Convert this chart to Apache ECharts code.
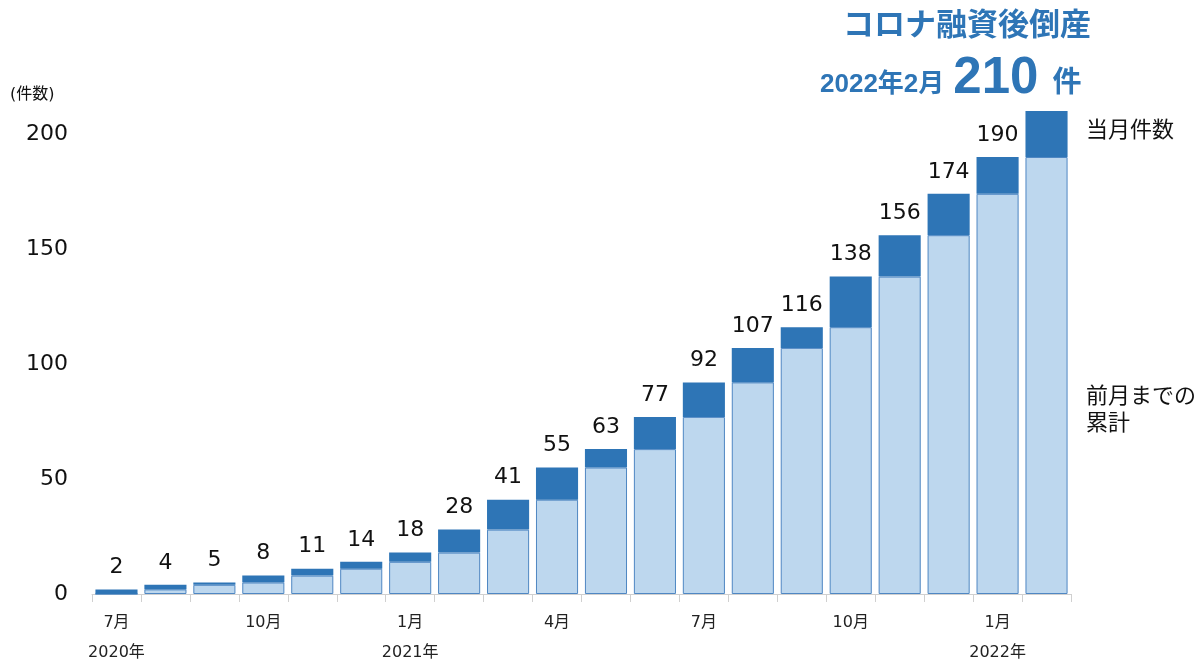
<!DOCTYPE html>
<html><head><meta charset="utf-8">
<script src="https://cdn.jsdelivr.net/npm/echarts@6/dist/echarts.min.js"></script>
<style>html,body{margin:0;padding:0;background:#fff}#c{width:1200px;height:660px}</style>
</head><body><div id="c"></div>
<script>
const months = ['7月','','','10月','','','1月','','','4月','','','7月','','','10月','','','1月',''];
const years  = ['2020年','','','','','','2021年','','','','','','','','','','','','2022年',''];
const prevCumulative = [0,2,4,5,8,11,14,18,28,41,55,63,77,92,107,116,138,156,174,190];
const monthly        = [2,2,1,3,3,3,4,10,13,14,8,14,15,15,9,22,18,18,16,20];
const totals         = [2,4,5,8,11,14,18,28,41,55,63,77,92,107,116,138,156,174,190,210];
const yTicks = [0,50,100,150,200];

const FONT = '"DejaVu Sans", "Noto Sans CJK JP", sans-serif';
const TFONT = '"Liberation Sans", "Noto Sans CJK JP", sans-serif';
const cats = months.map((m,i)=>String(i));
const chart = echarts.init(document.getElementById('c'));
chart.setOption({
  animation:false,
  grid:{left:92, right:129, top:111, bottom:66, containLabel:false, outerBoundsMode:'none'},
  xAxis:{
    type:'category', data:cats,
    axisLine:{lineStyle:{color:'#d0d0d0'}},
    axisTick:{show:true, length:8, lineStyle:{color:'#d0d0d0'}},
    axisLabel:{interval:0, margin:14, fontFamily:FONT, fontSize:16, color:'#222', lineHeight:30,
      formatter:(v)=>{const i=+v; return months[i] + '\n' + years[i];}}
  },
  yAxis:{
    type:'value', min:0, max:210, interval:50,
    splitLine:{show:false}, axisLine:{show:false}, axisTick:{show:false},
    axisLabel:{showMaxLabel:false, margin:24, fontFamily:FONT, fontSize:22, color:'#111',
      formatter:(v)=> yTicks.indexOf(v)>=0 ? String(v) : ''}
  },
  series:[
    {name:'前月までの累計', type:'bar', stack:'a', data:prevCumulative, barWidth:'86%',
     itemStyle:{color:'#BDD7EE', borderColor:'#4F87C3', borderWidth:1}},
    {name:'当月件数', type:'bar', stack:'a', data:monthly, barWidth:'86%',
     itemStyle:{color:'#2E75B6'},
     label:{show:true, position:'top', distance:11, fontFamily:FONT, fontSize:22, color:'#111',
       formatter:(p)=> p.dataIndex === totals.length-1 ? '' : String(totals[p.dataIndex])}}
  ],
  graphic:[
    {type:'text', left:10, top:87, style:{text:'(件数)', fontFamily:FONT, fontSize:16, fill:'#111'}},
    {type:'text', left:1086, top:120, style:{text:'当月件数', fontFamily:FONT, fontSize:22, fill:'#111'}},
    {type:'text', left:1086, top:384, style:{text:'前月までの\n累計', fontFamily:FONT, fontSize:22, lineHeight:27, fill:'#111'}},
    {type:'text', left:843, top:11, style:{text:'コロナ融資後倒産', fontFamily:TFONT, fontSize:31, fontWeight:'bold', fill:'#2E75B6'}},
    {type:'text', left:820, top:53, style:{
      text:'{a|2022年2月}{b|210}{c|件}',
      fill:'#2E75B6',
      rich:{
        a:{fontFamily:TFONT, fontSize:26, fontWeight:'bold', fill:'#2E75B6', verticalAlign:'bottom', padding:[0,0,6,0]},
        b:{fontFamily:TFONT, fontSize:51, fontWeight:'bold', fill:'#2E75B6', padding:[0,14,0,9]},
        c:{fontFamily:TFONT, fontSize:29, fontWeight:'bold', fill:'#2E75B6', verticalAlign:'bottom', padding:[0,0,6,0]}
      }}}
  ]
});
</script></body></html>
